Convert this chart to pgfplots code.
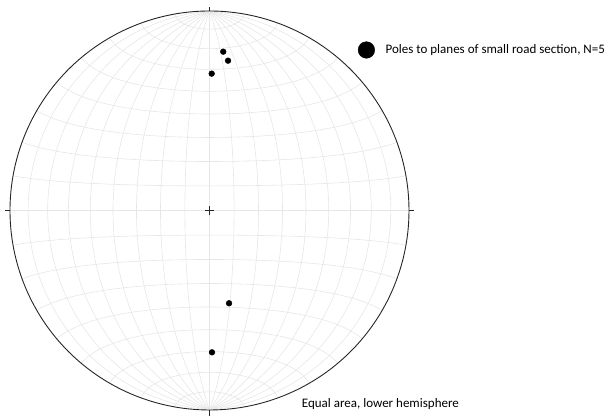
\documentclass[border=0pt]{standalone}
\usepackage{fontspec}
\setmainfont{Carlito}
\usepackage{pgfplots}
\pgfplotsset{compat=1.18}
\definecolor{gridc}{RGB}{230,230,230}
\begin{document}
\begin{tikzpicture}
\begin{axis}[
  scale only axis, width=606pt, height=416pt,
  xmin=-1.0501, xmax=1.9875, ymin=-1.0301, ymax=1.0551,
  hide axis, clip=false,
  legend style={at={(axis cs:0.743,0.8045)}, anchor=west, draw=none, fill=none,
    font=\fontsize{13}{15}\selectfont, inner sep=0pt, column sep=0pt,
    nodes={inner sep=0pt}},
  legend image code/.code={\fill[black] (0pt,0pt) circle (8.3pt); \path (19pt,0pt);},
]
% bounding box = whole axis area
\path (axis cs:-1.0501,-1.0301) rectangle (axis cs:1.9875,1.0551);
% net grid (10 degree Schmidt net)
\pgfplotsinvokeforeach{-80,-70,...,80}{%
  \draw[gridc, line width=0.6pt] plot[domain=-90:90, samples=61, variable=\t, smooth]
    ({cos(\t)*sin(#1)/sqrt(1+cos(\t)*cos(#1))}, {sin(\t)/sqrt(1+cos(\t)*cos(#1))});
  \draw[gridc, line width=0.6pt] plot[domain=-90:90, samples=61, variable=\t, smooth]
    ({cos(#1)*sin(\t)/sqrt(1+cos(#1)*cos(\t))}, {sin(#1)/sqrt(1+cos(#1)*cos(\t))});
}
% primitive circle
\draw[black!85, line width=0.9pt] plot[domain=0:360, samples=181, variable=\t, smooth] ({cos(\t)}, {sin(\t)});
% ticks
\draw[black!85, line width=0.8pt] (0,1) -- (0,1.022);
\draw[black!85, line width=0.8pt] (0,-1) -- (0,-1.028);
\draw[black!85, line width=0.8pt] (-1,0) -- (-1.024,0);
\draw[black!85, line width=0.8pt] (1,0) -- (1.024,0);
% centre cross
\draw[black!85, line width=0.6pt] (-0.022,0) -- (0.022,0);
\draw[black!85, line width=0.6pt] (0,-0.022) -- (0,0.022);
% poles
\addplot[only marks, mark=*, mark size=2.9pt, black] coordinates {
  (0.069,0.796) (0.093,0.751) (0.011,0.686) (0.098,-0.465) (0.0125,-0.711)
};
\addlegendentry{Poles to planes of small road section, N=5}
\node[anchor=west, inner sep=0pt, font=\fontsize{13}{15}\selectfont] at (axis cs:0.462,-0.970) {Equal area, lower hemisphere};
\end{axis}
\end{tikzpicture}
\end{document}
